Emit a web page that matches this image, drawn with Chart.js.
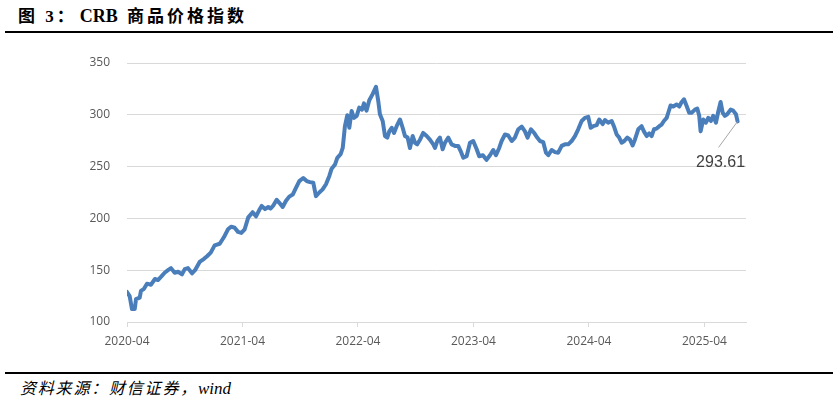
<!DOCTYPE html>
<html>
<head>
<meta charset="utf-8">
<script src="https://cdn.jsdelivr.net/npm/chart.js@4.4.1/dist/chart.umd.min.js"></script>
<style>
  html, body { margin:0; padding:0; background:#fff; }
  body { width:840px; height:404px; position:relative; overflow:hidden; }
  #title { position:absolute; left:18px; top:4px; font-family:"Liberation Serif","Noto Sans CJK SC",serif; font-weight:bold; font-size:17px; letter-spacing:3px; color:#000; line-height:24px; white-space:nowrap; }
  #title .lat { letter-spacing:0; margin-left:3px; margin-right:2px; font-size:18px; }
  #topline { position:absolute; left:5px; width:828px; top:31px; height:2px; background:#000; }
  #botline { position:absolute; left:5px; width:828px; top:372px; height:1.5px; background:#000; }
  #source { position:absolute; left:20px; top:378px; font-family:"Liberation Serif","Noto Sans CJK SC",serif; font-style:italic; font-size:16px; letter-spacing:1.8px; color:#000; line-height:22px; white-space:nowrap; }
  #source .lat { letter-spacing:0; font-size:17px; }
  #wrap { position:absolute; left:0; top:36px; width:840px; height:330px; }
</style>
</head>
<body>
<div id="title">图 3：<span class="lat">CRB</span> 商品价格指数</div>
<div id="topline"></div>
<div id="wrap"><canvas id="c"></canvas></div>
<div id="botline"></div>
<div id="source">资料来源：财信证券，<span class="lat">wind</span></div>
<script>
// Time in decimal years
const dates = [
  2020.25,2020.273,2020.293,2020.317,2020.328,2020.36,2020.371,2020.397,2020.423,2020.458,2020.492,2020.518,2020.544,2020.576,2020.605,2020.631,2020.663,2020.692,2020.726,2020.75,2020.778,2020.813,2020.839,2020.879,2020.917,2020.943,2020.975,2021.009,2021.053,2021.09,2021.124,2021.153,2021.182,2021.211,2021.24,2021.269,
  2021.30,2021.338,2021.367,2021.395,2021.416,2021.445,2021.473,2021.494,2021.517,2021.546,2021.569,2021.598,2021.627,2021.655,2021.685,2021.713,2021.742,2021.776,2021.806,2021.834,2021.863,2021.886,2021.915,2021.944,2021.973,2022.002,2022.022,2022.051,2022.071,2022.10,2022.118,2022.137,2022.157,2022.175,2022.195,2022.215,2022.239,2022.261,2022.285,2022.302,2022.324,
  2022.348,2022.377,2022.406,2022.426,2022.44,2022.464,2022.484,2022.504,2022.521,2022.542,2022.562,2022.585,2022.614,2022.637,2022.657,2022.68,2022.70,2022.724,2022.744,2022.763,2022.787,2022.815,2022.845,2022.873,2022.902,2022.917,2022.937,2022.96,2022.983,2023.003,2023.032,2023.061,2023.09,2023.118,2023.139,2023.162,2023.191,2023.22,2023.248,2023.278,2023.30,2023.332,2023.363,2023.393,
  2023.421,2023.445,2023.473,2023.494,2023.523,2023.551,2023.581,2023.609,2023.638,2023.668,2023.696,2023.719,2023.748,2023.774,2023.802,2023.826,2023.854,2023.878,2023.898,2023.927,2023.956,2023.984,2024.014,2024.042,2024.071,2024.10,2024.129,2024.157,2024.187,2024.215,2024.244,2024.265,2024.287,2024.317,2024.339,2024.369,2024.389,2024.417,2024.447,2024.466,2024.49,2024.512,2024.533,2024.556,2024.582,2024.605,2024.628,2024.648,2024.677,2024.706,2024.726,2024.75,2024.772,2024.793,2024.813,2024.836,2024.859,2024.879,2024.899,2024.923,2024.937,2024.957,2024.98,2025.009,2025.032,2025.053,2025.073,2025.096,2025.118,2025.139,2025.168,2025.188,2025.205,2025.217,2025.24,2025.263,2025.283,2025.306,2025.326,2025.35,2025.369,2025.39,2025.408,2025.427,2025.447,2025.477,2025.499,2025.523,2025.537
];
const crb = [
  129,125,112.5,112.5,122,123.5,130,132,137,136,141.5,140.5,143.5,147.5,150,152,147.5,148.5,146,151,152,147,150,158,161,163.5,167,174,175.5,182,189.5,192,191,187,186,189.5,
  201,206,202,208,212,209,211,209.5,212.5,218,215,211,217,221,223,229.5,236,239,236,235,234.5,221.5,225,228,233,241,248,252,258.5,262,268,289,299.5,287.5,303.7,297,299,307,305,311,304,
  314,320,327,313,300.5,294,279.5,278,284,287.5,282.5,289,295.5,287.5,279.5,278,268,279.5,273,271.5,276,282.5,279.5,276,271.5,268,274.7,278,266.7,273,278,271.5,270,270,265,258.5,260,273,274.7,266.7,260,261,256.5,261,
  266,261,268,274.7,281,280,274.7,278,286,288.5,284,278,286,282.7,278,274.7,273.7,263.4,261,266,264,263.4,270,271.5,271.5,274.7,279.5,286,294,297,298,287.5,289,290,295.5,291,295,292.4,294,289,281,278,273,274.7,278,276,270.4,276,286,289,284,279.5,282,279.5,286,286.7,289,290.6,294,297,302,309,308,310,308,312.4,315,308.5,302,302,305,306,299,284,295.5,292.4,297,294,299,292.4,302.7,312.4,302,299,300.5,305,304,300.5,293.61
];
const xTickValues = [2020.25, 2021.25, 2022.25, 2023.25, 2024.25, 2025.25];
const xTickLabels = ['2020-04','2021-04','2022-04','2023-04','2024-04','2025-04'];
const yTicks = [100, 150, 200, 250, 300, 350];
const lastLabel = '293.61';

const points = dates.map((d, i) => ({ x: d, y: crb[i] }));

const endLabel = {
  id: 'endLabel',
  afterDatasetsDraw(chart) {
    const meta = chart.getDatasetMeta(0);
    const p = meta.data[meta.data.length - 1];
    const ctx = chart.ctx;
    ctx.save();
    ctx.strokeStyle = '#a6a6a6';
    ctx.lineWidth = 1;
    ctx.beginPath();
    ctx.moveTo(p.x, p.y);
    ctx.lineTo(p.x - 19, p.y + 26);
    ctx.stroke();
    ctx.fillStyle = '#404040';
    ctx.font = '16px "Liberation Sans", Arial, sans-serif';
    ctx.textAlign = 'center';
    ctx.textBaseline = 'middle';
    ctx.fillText(lastLabel, p.x - 17, p.y + 41);
    ctx.restore();
  }
};

new Chart(document.getElementById('c'), {
  type: 'line',
  data: {
    datasets: [{
      data: points,
      borderColor: '#4a7ebb',
      borderWidth: 4,
      pointRadius: 0,
      tension: 0,
      borderJoinStyle: 'round',
      borderCapStyle: 'round',
      fill: false
    }]
  },
  options: {
    responsive: true,
    maintainAspectRatio: false,
    animation: false,
    parsing: false,
    layout: { padding: { top: 27, right: 94, left: 0, bottom: 0 } },
    plugins: { legend: { display: false }, tooltip: { enabled: false } },
    scales: {
      x: {
        type: 'linear',
        min: 2020.25,
        max: 2025.61,
        afterBuildTicks(scale) { scale.ticks = xTickValues.map(v => ({ value: v })); },
        afterFit(scale) { scale.height = 44; },
        ticks: {
          autoSkip: false,
          maxRotation: 0,
          padding: 7,
          color: '#595959',
          font: { family: '"Open Sans", "Liberation Sans", sans-serif', size: 12 },
          callback(v) { const i = xTickValues.indexOf(v); return i >= 0 ? xTickLabels[i] : ''; }
        },
        grid: { drawOnChartArea: false, drawTicks: true, tickLength: 5, color: '#d9d9d9' },
        border: { display: true, color: '#d9d9d9', width: 1 }
      },
      y: {
        min: 100,
        max: 350,
        afterBuildTicks(scale) { scale.ticks = yTicks.map(v => ({ value: v })); },
        afterFit(scale) { scale.width = 127; },
        ticks: {
          padding: 17,
          color: '#595959',
          font: { family: '"Open Sans", "Liberation Sans", sans-serif', size: 12 }
        },
        grid: { color: '#d9d9d9', drawTicks: false, lineWidth: 1 },
        border: { display: false }
      }
    }
  },
  plugins: [endLabel]
});
</script>
</body>
</html>
